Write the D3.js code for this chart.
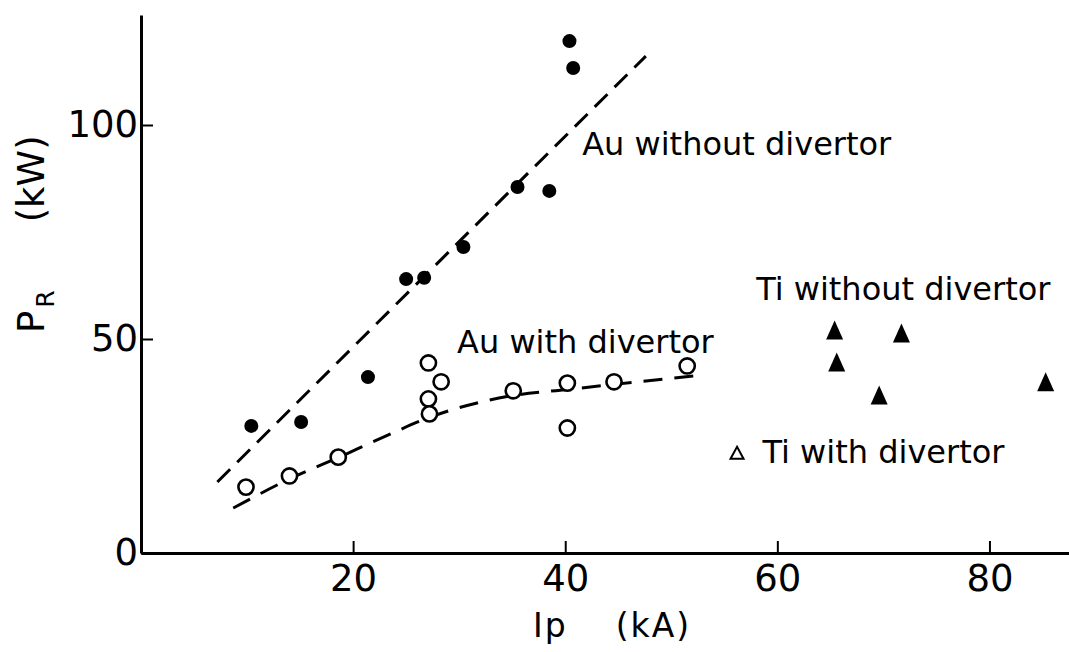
<!DOCTYPE html>
<html lang="en">
<head>
    <meta charset="UTF-8">
    <script src="https://cdn.jsdelivr.net/npm/d3@7/dist/d3.min.js"></script>
    <title>Radiated power vs plasma current</title>
    <style>
        body { margin: 0; background: #fff; }
        svg { display: block; font-family: "DejaVu Sans", sans-serif; }
    </style>
</head>
<body>

<svg width="1069" height="652"></svg>

<script>
// Au without divertor (filled circles)
const auWithoutIp = [10.4, 15.1, 21.4, 25.0, 26.7, 30.4, 35.5, 38.5, 40.4, 40.75]
const auWithoutP  = [29.7, 30.6, 41.1, 64.0, 64.3, 71.5, 85.5, 84.6, 119.6, 113.3]

// Au with divertor (open circles)
const auWithIp = [9.9, 14.0, 18.6, 27.1, 28.3, 27.1, 27.2, 35.1, 40.2, 40.2, 44.6, 51.5]
const auWithP  = [15.4, 18.0, 22.4, 44.4, 40.0, 36.0, 32.5, 37.9, 39.7, 29.2, 40.0, 43.7]

// Ti without divertor (filled triangles)
const tiWithoutIp = [65.4, 65.6, 71.7, 69.6, 85.3]
const tiWithoutP  = [52.1, 44.6, 51.4, 36.9, 40.0]

// dashed guide lines
const fitWithoutIp = [7.2, 47.6]
const fitWithoutP  = [16.6, 116.1]
const fitWithIp = [8.7, 14.0, 18.6, 22.8, 27.0, 35.1, 40.2, 44.6, 53.0]
const fitWithP  = [10.5, 17.3, 22.3, 27.0, 31.5, 36.8, 38.2, 39.4, 41.6]

const xTicks = [20, 40, 60, 80]
const yTicks = [0, 50, 100]

const pts = (xs, ys) => xs.map((v, i) => ({ip: v, p: ys[i]}))

const width = 1069
const height = 652

const x = d3.scaleLinear()
    .domain([0, 87.5])
    .range([141, 1069])

const y = d3.scaleLinear()
    .domain([0, 125.7])
    .range([553, 15])

const svg = d3.select('svg')

svg.append('rect')
    .attr('width', width)
    .attr('height', height)
    .attr('fill', '#fff')

// axes
const xAxis = g => g
    .attr('transform', `translate(0,${y(0)})`)
    .call(d3.axisBottom(x).tickValues(xTicks).tickSizeInner(-12).tickSizeOuter(0).tickPadding(12))

const yAxis = g => g
    .attr('transform', `translate(${x(0)},0)`)
    .call(d3.axisLeft(y).tickValues(yTicks).tickSizeInner(-12).tickSizeOuter(0).tickPadding(3))

svg.append('g').call(xAxis)
svg.append('g').call(yAxis)

svg.selectAll('.domain')
    .attr('stroke', '#000')
    .attr('stroke-width', 3)
svg.selectAll('.tick line')
    .attr('stroke', '#000')
    .attr('stroke-width', 2)
svg.selectAll('.tick text')
    .attr('fill', '#000')
    .attr('font-family', '"DejaVu Sans", sans-serif')
    .attr('font-size', 37)

// dashed lines
const line = d3.line()
    .x(d => x(d.ip))
    .y(d => y(d.p))

svg.append('path')
    .datum(pts(fitWithoutIp, fitWithoutP))
    .attr('fill', 'none')
    .attr('stroke', '#000')
    .attr('stroke-width', 3)
    .attr('stroke-dasharray', '18,10')
    .attr('d', line)

svg.append('path')
    .datum(pts(fitWithIp, fitWithP))
    .attr('fill', 'none')
    .attr('stroke', '#000')
    .attr('stroke-width', 3)
    .attr('stroke-dasharray', '19,12')
    .attr('d', line.curve(d3.curveMonotoneX))

// markers
svg.append('g')
    .selectAll('circle')
    .data(pts(auWithoutIp, auWithoutP))
    .join('circle')
    .attr('cx', d => x(d.ip))
    .attr('cy', d => y(d.p))
    .attr('r', 7)
    .attr('fill', '#000')

svg.append('g')
    .selectAll('circle')
    .data(pts(auWithIp, auWithP))
    .join('circle')
    .attr('cx', d => x(d.ip))
    .attr('cy', d => y(d.p))
    .attr('r', 7.6)
    .attr('fill', '#fff')
    .attr('stroke', '#000')
    .attr('stroke-width', 2.6)

svg.append('g')
    .selectAll('path')
    .data(pts(tiWithoutIp, tiWithoutP))
    .join('path')
    .attr('transform', d => `translate(${x(d.ip)},${y(d.p)})`)
    .attr('d', 'M0,-9.5L8.5,9.5L-8.5,9.5Z')
    .attr('fill', '#000')

// labels
const label = (ip, p, txt) => svg.append('text')
    .attr('x', x(ip))
    .attr('y', y(p))
    .attr('font-size', 32)
    .attr('fill', '#000')
    .text(txt)

label(41.6, 93.0, 'Au without divertor')
label(29.8, 46.7, 'Au with divertor')
label(58.0, 59.1, 'Ti without divertor')
label(58.6, 21.0, 'Ti with divertor')

// little open triangle key
svg.append('path')
    .attr('transform', `translate(${x(56.2)},${y(23.4)})`)
    .attr('d', 'M0,-6L6.5,6L-6.5,6Z')
    .attr('fill', 'none')
    .attr('stroke', '#000')
    .attr('stroke-width', 2)

// axis titles
const xt = svg.append('text')
    .attr('x', 533)
    .attr('y', 637)
    .attr('font-size', 33)
    .attr('fill', '#000')
xt.append('tspan').attr('letter-spacing', 2).text('Ip')
xt.append('tspan').attr('dx', 48).attr('letter-spacing', 2).text('(kA)')

const yt = svg.append('text')
    .attr('transform', 'translate(44,333) rotate(-90)')
    .attr('font-size', 37)
    .attr('fill', '#000')
yt.append('tspan').text('P')
yt.append('tspan').attr('font-size', 25).attr('dx', 3).attr('dy', 10).text('R')
yt.append('tspan').attr('dx', 68).attr('dy', -10).text('(kW)')
</script>

</body>
</html>
